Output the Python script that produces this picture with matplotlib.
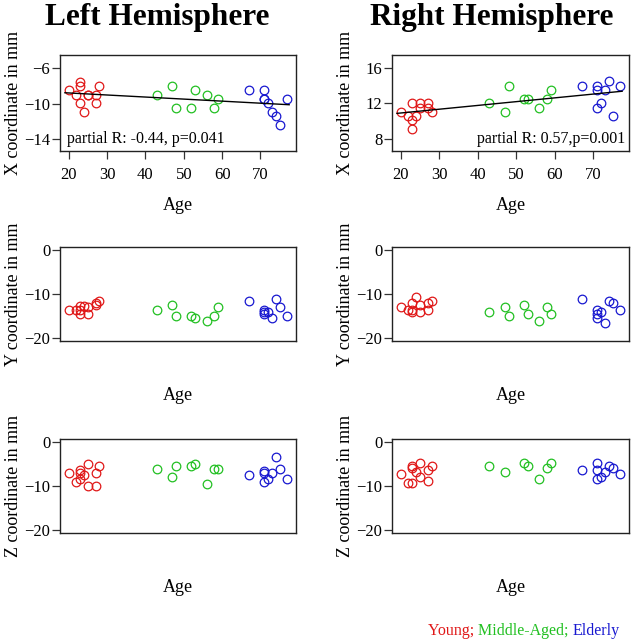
import numpy as np
import matplotlib
matplotlib.use("Agg")
import matplotlib.pyplot as plt

plt.rcParams['font.family'] = ['Liberation Serif', 'DejaVu Serif']

# ---- data ----
age_young = [20, 22, 23, 23, 23, 24, 25, 25, 27, 27, 28]
age_middle = [43, 47, 48, 52, 53, 56, 58, 59]
age_elderly = [67, 71, 71, 71, 72, 73, 74, 75, 77]

# Left hemisphere
lx_young = [-8.5, -9.0, -7.5, -8.0, -9.9, -10.9, -9.0, -9.0, -9.0, -9.9, -8.0]
lx_middle = [-9.0, -8.0, -10.45, -10.45, -8.5, -9.0, -10.45, -9.5]
lx_elderly = [-8.5, -8.5, -9.5, -9.5, -9.9, -10.9, -11.4, -12.4, -9.5]

ly_young = [-13.6, -13.6, -12.8, -13.6, -14.7, -12.8, -13.1, -14.7, -12.6, -12.1, -11.6]
ly_middle = [-13.6, -12.6, -15.1, -15.1, -15.6, -16.2, -15.1, -13.1]
ly_elderly = [-11.6, -13.6, -14.2, -14.7, -14.1, -15.6, -11.1, -13.1, -15.1]

lz_young = [-6.9, -9.0, -6.3, -6.9, -8.5, -7.5, -5.0, -10.0, -6.9, -10.0, -5.4]
lz_middle = [-6.0, -8.0, -5.4, -5.4, -5.0, -9.5, -6.0, -6.0]
lz_elderly = [-7.5, -6.5, -6.9, -9.0, -8.5, -6.9, -3.4, -6.0, -8.5]

# Right hemisphere
rx_young = [11.1, 10.6, 12.0, 10.1, 9.1, 10.6, 12.0, 11.55, 12.0, 11.55, 11.1]
rx_middle = [12.0, 11.1, 14.0, 12.5, 12.5, 11.55, 12.5, 13.5]
rx_elderly = [14.0, 14.0, 13.5, 11.55, 12.0, 13.5, 14.5, 10.6, 14.0]

ry_young = [-13.1, -13.6, -12.1, -13.6, -14.1, -10.7, -12.6, -14.1, -13.6, -12.1, -11.6]
ry_middle = [-14.1, -13.1, -15.1, -12.6, -14.7, -16.2, -13.1, -14.7]
ry_elderly = [-11.1, -13.6, -14.7, -15.6, -14.1, -16.6, -11.6, -12.1, -13.6]

rz_young = [-7.3, -9.4, -5.3, -5.8, -9.4, -6.8, -4.8, -7.9, -6.4, -8.9, -5.3]
rz_middle = [-5.3, -6.8, np.nan, -4.8, -5.3, -8.3, -5.8, -4.8]
rz_elderly = [-6.4, -4.8, -6.4, -8.3, -7.9, -6.8, -5.3, -5.8, -7.3]

x_ticks = [20, 30, 40, 50, 60, 70]
partial_left = "partial R: -0.44, p=0.041"
partial_right = "partial R: 0.57,p=0.001"
group_labels = ["Young; ", "Middle-Aged; ", "Elderly"]
colors = ["#E01818", "#22C022", "#1818D0"]

W, H = 633, 640
fig = plt.figure(figsize=(W / 100, H / 100), dpi=100)

def fx(px):
    return px / W

def fy(py):
    return 1 - py / H

col_x = [(60, 296), (392, 629)]
row_y = [(55, 151), (247, 341), (439, 533)]

panels = {
    (0, 0): (lx_young, lx_middle, lx_elderly),
    (1, 0): (ly_young, ly_middle, ly_elderly),
    (2, 0): (lz_young, lz_middle, lz_elderly),
    (0, 1): (rx_young, rx_middle, rx_elderly),
    (1, 1): (ry_young, ry_middle, ry_elderly),
    (2, 1): (rz_young, rz_middle, rz_elderly),
}
ylabels = ["X coordinate in mm", "Y coordinate in mm", "Z coordinate in mm"]
ages = [age_young, age_middle, age_elderly]
all_ages = np.array(age_young + age_middle + age_elderly, dtype=float)
pad = 0.04 * (all_ages.max() - all_ages.min())

tick_fs = 12
label_fs = 13

for (r, c), vals in panels.items():
    x0, x1 = col_x[c]
    y0, y1 = row_y[r]
    ax = fig.add_axes([fx(x0), fy(y1), fx(x1 - x0), (y1 - y0) / H])
    for a, v, col in zip(ages, vals, colors):
        ax.plot(a, v, linestyle='none', marker='o', markersize=6.2,
                markerfacecolor='none', markeredgecolor=col, markeredgewidth=0.9)
    ax.set_xlim(all_ages.min() - pad, all_ages.max() + pad)
    ax.tick_params(direction='out', length=5.5, width=0.9, labelsize=tick_fs,
                   color='#333333')
    ax.tick_params(axis='y', pad=1.5)
    ax.tick_params(axis='x', pad=6)
    for s in ax.spines.values():
        s.set_linewidth(1.0)
        s.set_color('#222222')
    ax.set_xticks(x_ticks)
    if r == 0:
        yv = np.array(vals[0] + vals[1] + vals[2], dtype=float)
        slope, inter = np.polyfit(all_ages, yv, 1)
        xl = np.array([all_ages.min() - 1, all_ages.max() + 0.5])
        ax.plot(xl, inter + slope * xl, color='black', linewidth=1.0)
        if c == 0:
            ax.set_ylim(-15.36, -4.5)
            ax.set_yticks([-14, -10, -6])
            ax.text(0.03, 0.13, partial_left, transform=ax.transAxes,
                    fontsize=11.5, ha='left', va='center')
        else:
            ax.set_ylim(6.68, 17.43)
            ax.set_yticks([8, 12, 16])
            ax.text(0.985, 0.13, partial_right, transform=ax.transAxes,
                    fontsize=11.5, ha='right', va='center')
        age_y = 206
    else:
        ax.set_ylim(-20.8, 0.8)
        ax.set_yticks([-20, -10, 0])
        ax.tick_params(axis='x', bottom=False, labelbottom=False)
        age_y = 395 if r == 1 else 588
    fig.text(fx((x0 + x1) / 2), fy(age_y), "Age", ha='center', va='center',
             fontsize=label_fs)
    fig.text(fx(x0 - 46), fy((y0 + y1) / 2), ylabels[r], rotation=90,
             ha='center', va='center', fontsize=label_fs)

fig.text(fx(157), fy(17), "Left Hemisphere", ha='center', va='center',
         fontsize=22.5, fontweight='bold')
fig.text(fx(492), fy(17), "Right Hemisphere", ha='center', va='center',
         fontsize=22.5, fontweight='bold')

# colored legend text
xpos = fx(428)
renderer = fig.canvas.get_renderer()
for lab, col in zip(group_labels, colors):
    t = fig.text(xpos, fy(631), lab, color=col, fontsize=11.5, ha='left', va='center')
    bb = t.get_window_extent(renderer=renderer)
    xpos += bb.width / W

fig.savefig("out.png", dpi=100)
